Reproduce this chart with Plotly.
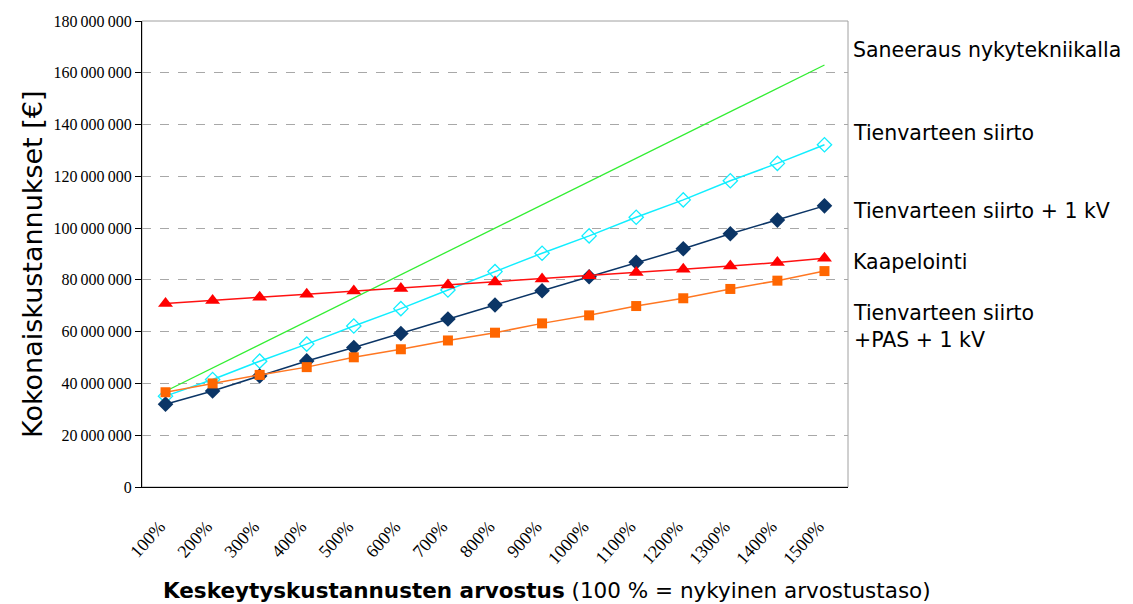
import plotly.graph_objects as go

categories = ["100%", "200%", "300%", "400%", "500%", "600%", "700%", "800%",
              "900%", "1000%", "1100%", "1200%", "1300%", "1400%", "1500%"]

saneeraus = [37.0, 46.0, 55.0, 64.0, 73.0, 82.0, 91.0, 100.0, 109.0, 118.0,
             127.0, 136.0, 145.0, 154.0, 163.0]
tienvarsi = [35.1, 41.5, 48.6, 55.2, 62.2, 68.9, 76.1, 83.2, 90.3, 97.0,
             104.2, 110.9, 118.3, 125.0, 132.2]
tienvarsi_1kv = [32.0, 37.1, 42.9, 48.7, 53.9, 59.3, 64.9, 70.3, 75.8, 81.2,
                 86.8, 92.0, 97.8, 103.1, 108.6]
kaapelointi = [70.9, 72.0, 73.3, 74.5, 75.7, 76.7, 78.0, 79.2, 80.3, 81.6,
               82.9, 84.1, 85.4, 86.7, 88.4]
tienvarsi_pas = [36.6, 40.0, 43.3, 46.3, 50.1, 53.2, 56.6, 59.6, 63.2, 66.3,
                 69.9, 72.9, 76.5, 79.7, 83.4]

series_names = ["Saneeraus nykytekniikalla", "Tienvarteen siirto",
                "Tienvarteen siirto + 1 kV", "Kaapelointi",
                "Tienvarteen siirto<br>+PAS + 1 kV"]

y_ticks = [0, 20, 40, 60, 80, 100, 120, 140, 160, 180]
y_ticklabels = ["0", "20\u2009000\u2009000", "40\u2009000\u2009000", "60\u2009000\u2009000",
                "80\u2009000\u2009000", "100\u2009000\u2009000", "120\u2009000\u2009000",
                "140\u2009000\u2009000", "160\u2009000\u2009000", "180\u2009000\u2009000"]

x_title = "<b>Keskeytyskustannusten arvostus</b> (100 % = nykyinen arvostustaso)"
y_title = "Kokonaiskustannukset [€]"

M = 1_000_000

fig = go.Figure()

fig.add_trace(go.Scatter(x=categories, y=[v * M for v in saneeraus], mode="lines",
                         line=dict(color="#33EE33", width=1.3), name=series_names[0]))
fig.add_trace(go.Scatter(x=categories, y=[v * M for v in tienvarsi], mode="lines+markers",
                         line=dict(color="#11EEFF", width=1.5),
                         marker=dict(symbol="diamond-open", size=11, color="#11EEFF",
                                     line=dict(width=1.3)),
                         name=series_names[1]))
fig.add_trace(go.Scatter(x=categories, y=[v * M for v in tienvarsi_1kv], mode="lines+markers",
                         line=dict(color="#0B3566", width=1.5),
                         marker=dict(symbol="diamond", size=12, color="#0B3566"),
                         name=series_names[2]))
fig.add_trace(go.Scatter(x=categories, y=[v * M for v in kaapelointi], mode="lines+markers",
                         line=dict(color="#FF1111", width=1.5),
                         marker=dict(symbol="triangle-up", size=13, color="#FF0000"),
                         name=series_names[3]))
fig.add_trace(go.Scatter(x=categories, y=[v * M for v in tienvarsi_pas], mode="lines+markers",
                         line=dict(color="#FF7722", width=1.5),
                         marker=dict(symbol="square", size=10, color="#FF6600"),
                         name=series_names[4]))

# page offset (browser body margin)
OFF = 8
FIG_W, FIG_H = 1133 - OFF, 604 - OFF
plot_left, plot_right = 142 - OFF, 848 - OFF
plot_top, plot_bottom = 21.4 - OFF, 486.7 - OFF
W, H = plot_right - plot_left, plot_bottom - plot_top


def px(x):
    return (x - OFF - plot_left) / W


def py(y):
    return (plot_bottom - (y - OFF)) / H


# right-side labels (page pixel rows of label centres)
label_y = [50, 133, 211, 262, 326]
for name, yy in zip(series_names, label_y):
    fig.add_annotation(text=name, xref="paper", yref="paper",
                       x=px(851), xanchor="left", y=py(yy), yanchor="middle",
                       showarrow=False, align="left",
                       font=dict(family="DejaVu Sans", size=20.5, color="#000000"))

fig.add_annotation(text=x_title, xref="paper", yref="paper",
                   x=px(547), xanchor="center", y=py(590), yanchor="middle",
                   showarrow=False,
                   font=dict(family="DejaVu Sans", size=21.5, color="black"))
fig.add_annotation(text=y_title, xref="paper", yref="paper", textangle=-90,
                   x=px(33), xanchor="center", y=py(265), yanchor="middle",
                   showarrow=False,
                   font=dict(family="DejaVu Sans", size=27, color="black"))

fig.update_layout(
    width=FIG_W, height=FIG_H,
    margin=dict(l=plot_left, r=FIG_W - plot_right, t=plot_top, b=FIG_H - plot_bottom),
    paper_bgcolor="white", plot_bgcolor="white",
    showlegend=False,
    shapes=[dict(type="rect", xref="paper", yref="paper", x0=0, x1=1, y0=0, y1=1,
                 line=dict(color="#A0A0A0", width=1), layer="below")],
    xaxis=dict(
        type="category", range=[-0.5, 14.5], automargin=False,
        tickangle=-48, ticks="", showgrid=False,
        ticklabelstandoff=21, ticklabelshift=-6,
        showline=True, linecolor="black", linewidth=1,
        tickfont=dict(family="Liberation Serif", size=18, color="black"),
    ),
    yaxis=dict(
        range=[0, 180 * M], tickvals=[v * M for v in y_ticks], ticktext=y_ticklabels,
        automargin=False,
        ticks="outside", ticklen=6, tickcolor="black",
        showline=True, linecolor="black", linewidth=1,
        showgrid=True, gridcolor="#A8A8A8", griddash="dash", gridwidth=1,
        zeroline=False,
        tickfont=dict(family="Liberation Serif", size=16, color="black"),
    ),
)

fig.write_html("out.html")
